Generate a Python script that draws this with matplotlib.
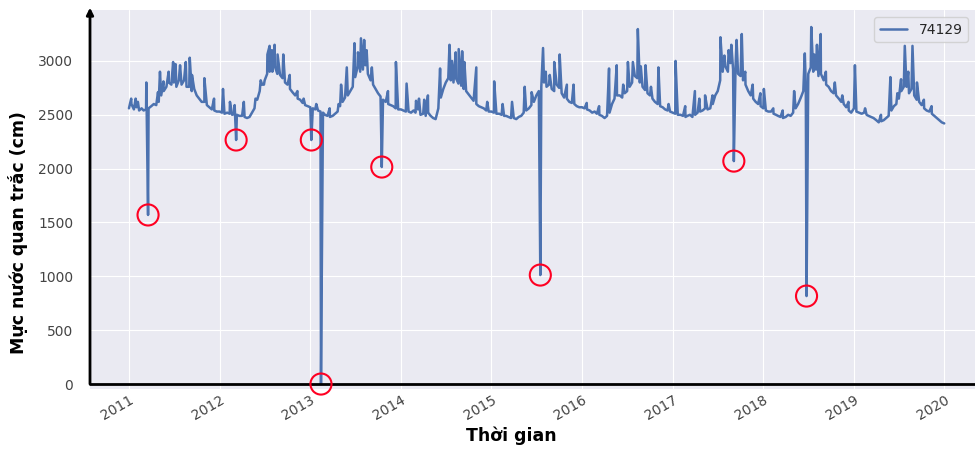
import matplotlib
matplotlib.use("Agg")
import matplotlib.pyplot as plt
import pandas as pd
import seaborn as sns

sns.set_style("darkgrid")
plt.rcParams["font.family"] = ["DejaVu Sans"]

STATION = "74129"

years = [2011, 2012, 2013, 2014, 2015, 2016, 2017, 2018, 2019]
level_2011 = [2560, 2600, 2550, 2570, 2540, 2560, 2540, 2550, 2560, 2580, 2600, 2590,
              2620, 2680, 2720, 2760, 2800, 2780, 2800, 2760, 2820, 2780, 2820, 2760,
              2760, 2720, 2740, 2680, 2650, 2620, 2620, 2590, 2570, 2550, 2540, 2530]
level_2012 = [2530, 2520, 2510, 2520, 2510, 2500, 2510, 2500, 2490, 2490, 2480, 2470,
              2480, 2520, 2560, 2640, 2720, 2780, 2820, 2880, 2900, 2900, 2950, 2880,
              2870, 2840, 2800, 2780, 2740, 2710, 2680, 2650, 2640, 2610, 2590, 2580]
level_2013 = [2570, 2560, 2550, 2540, 2530, 2520, 2500, 2490, 2480, 2490, 2510, 2530,
              2580, 2620, 2660, 2680, 2720, 2760, 2850, 2950, 2900, 2920, 2960, 2880,
              2820, 2780, 2740, 2700, 2670, 2640, 2620, 2600, 2590, 2580, 2560, 2550]
level_2014 = [2550, 2540, 2530, 2530, 2520, 2540, 2520, 2550, 2500, 2510, 2490, 2520,
              2490, 2470, 2460, 2560, 2660, 2740, 2800, 2840, 2820, 2800, 2840, 2790,
              2770, 2740, 2720, 2690, 2660, 2630, 2600, 2580, 2570, 2560, 2540, 2530]
level_2015 = [2530, 2520, 2510, 2510, 2500, 2490, 2490, 2480, 2470, 2470, 2460, 2480,
              2490, 2520, 2540, 2560, 2590, 2620, 2680, 2720, 2760, 2800, 2760, 2780,
              2740, 2720, 2780, 2750, 2700, 2660, 2650, 2620, 2610, 2600, 2580, 2570]
level_2016 = [2570, 2560, 2550, 2540, 2520, 2530, 2510, 2500, 2490, 2470, 2490, 2520,
              2600, 2650, 2680, 2680, 2660, 2700, 2720, 2760, 2800, 2860, 2840, 2800,
              2760, 2730, 2700, 2680, 2650, 2620, 2600, 2580, 2570, 2550, 2540, 2530]
level_2017 = [2520, 2510, 2500, 2500, 2490, 2480, 2490, 2500, 2480, 2500, 2520, 2530,
              2540, 2560, 2550, 2560, 2600, 2680, 2720, 2820, 2900, 2950, 2900, 2980,
              2920, 2960, 2880, 2860, 2820, 2780, 2720, 2680, 2650, 2620, 2600, 2580]
level_2018 = [2560, 2540, 2530, 2530, 2510, 2500, 2490, 2480, 2470, 2480, 2500, 2490,
              2520, 2560, 2600, 2660, 2720, 2780, 2880, 2940, 2900, 2920, 2860, 2880,
              2820, 2780, 2760, 2720, 2700, 2680, 2650, 2620, 2600, 2570, 2540, 2520]
level_2019 = [2560, 2530, 2520, 2510, 2520, 2500, 2490, 2480, 2470, 2450, 2430, 2440,
              2450, 2470, 2490, 2540, 2580, 2600, 2650, 2720, 2760, 2760, 2700, 2740,
              2680, 2640, 2620, 2590, 2560, 2540, 2530, 2510, 2490, 2470, 2450, 2430]
last_date, last_value = "2019-12-31", 2420

# single-day peaks
spike_dates = [
    "2011-01-10", "2011-01-28", "2011-02-06", "2011-03-12", "2011-04-28", "2011-05-06",
    "2011-05-20", "2011-06-10", "2011-06-28", "2011-07-08", "2011-07-26", "2011-08-18",
    "2011-09-03", "2011-09-12", "2011-11-01", "2011-12-10",
    "2012-01-15", "2012-02-12", "2012-03-02", "2012-04-08", "2012-05-25", "2012-06-15",
    "2012-06-28", "2012-07-12", "2012-07-21", "2012-07-30", "2012-08-10", "2012-08-22",
    "2012-09-14", "2012-10-10", "2012-11-10", "2012-12-05",
    "2013-01-25", "2013-03-20", "2013-04-25", "2013-05-05", "2013-05-28", "2013-06-28",
    "2013-07-12", "2013-07-24", "2013-08-06", "2013-08-16", "2013-09-06", "2013-11-10",
    "2013-12-12",
    "2014-01-24", "2014-03-03", "2014-03-15", "2014-04-05", "2014-04-20", "2014-06-08",
    "2014-07-16", "2014-07-26", "2014-08-10", "2014-08-22", "2014-09-05", "2014-09-14",
    "2014-11-01", "2014-12-15",
    "2015-01-12", "2015-02-15", "2015-03-25", "2015-05-15", "2015-06-12", "2015-07-28",
    "2015-08-08", "2015-08-24", "2015-09-11", "2015-10-03", "2015-11-01", "2015-11-28",
    "2016-01-20", "2016-03-10", "2016-04-19", "2016-05-20", "2016-06-15", "2016-07-04",
    "2016-07-24", "2016-08-13", "2016-08-25", "2016-09-13", "2016-10-05", "2016-11-04",
    "2016-12-15",
    "2017-01-12", "2017-02-20", "2017-03-31", "2017-04-18", "2017-05-11", "2017-06-10",
    "2017-07-12", "2017-07-28", "2017-08-14", "2017-08-25", "2017-09-15", "2017-10-06",
    "2017-10-20", "2017-11-19", "2017-12-20",
    "2018-01-03", "2018-02-10", "2018-03-20", "2018-05-05", "2018-06-17", "2018-07-13",
    "2018-07-25", "2018-08-05", "2018-08-20", "2018-09-10", "2018-10-16", "2018-11-15",
    "2018-12-10",
    "2019-01-05", "2019-02-15", "2019-04-20", "2019-05-28", "2019-06-25", "2019-07-10",
    "2019-07-25", "2019-08-08", "2019-08-25", "2019-09-12", "2019-10-10", "2019-11-10",
]
spike_values = [
    2650, 2650, 2620, 2800, 2710, 2900, 2810, 2900, 2990, 2970, 2960, 2990, 3030, 2870, 2840, 2650,
    2740, 2620, 2590, 2620, 2650, 2820, 2780, 3060, 3140, 3100, 3150, 3060, 3060, 2870, 2720, 2650,
    2600, 2560, 2600, 2780, 2940, 3165, 3080, 3210, 3195, 3100, 2940, 2720, 2990,
    2790, 2630, 2650, 2640, 2680, 2930, 3150, 3000, 3080, 3110, 3090, 2990, 2940, 2620,
    2810, 2600, 2620, 2760, 2710, 3120, 2900, 2870, 2990, 3060, 2780, 2780,
    2610, 2580, 2930, 2960, 2780, 2990, 2990, 3296, 2950, 2960, 2760, 2940, 2600,
    3000, 2580, 2720, 2650, 2680, 2680, 3220, 3050, 3100, 3150, 3195, 3250, 2900, 2780, 2700,
    2740, 2560, 2540, 2720, 3070, 3315, 3060, 3150, 3250, 2900, 2800, 2680, 2620,
    2960, 2560, 2500, 2850, 2700, 2830, 3140, 2900, 3140, 2800, 2640, 2580,
]

# abnormal drops (circled)
outlier_dates = ["2011-03-19", "2012-03-08", "2013-01-05", "2013-02-13",
                 "2013-10-16", "2015-07-17", "2017-09-04", "2018-06-24"]
outlier_values = [1570, 2266, 2266, 0, 2015, 1012, 2070, 817]

# ---- assemble the series ----
levels = [level_2011, level_2012, level_2013, level_2014, level_2015,
          level_2016, level_2017, level_2018, level_2019]
base_dates, base_values = [], []
for yr, vals in zip(years, levels):
    for i, v in enumerate(vals):
        base_dates.append(pd.Timestamp(yr, i // 3 + 1, [1, 11, 21][i % 3]))
        base_values.append(v)
base_dates.append(pd.Timestamp(last_date))
base_values.append(last_value)

series = pd.concat([
    pd.Series(base_values, index=pd.DatetimeIndex(base_dates)),
    pd.Series(spike_values, index=pd.to_datetime(spike_dates)),
    pd.Series(outlier_values, index=pd.to_datetime(outlier_dates)),
]).sort_index()

# ---- figure ----
fig = plt.figure(figsize=(9.75, 4.51), dpi=100)
ax = fig.add_axes([90 / 975, 1 - 389 / 451, 885 / 975, 379 / 451])

ax.plot(series.index, series.values, color="#4c72b0", lw=1.8, label=STATION)
ax.scatter(pd.to_datetime(outlier_dates), outlier_values, s=230, facecolors="none",
           edgecolors="#ff0022", linewidths=1.5, zorder=4, clip_on=False)

ax.set_xlim(pd.Timestamp("2010-07-28"), pd.Timestamp("2020-05-03"))
ax.set_ylim(-46, 3473)
ax.set_yticks([0, 500, 1000, 1500, 2000, 2500, 3000])
ax.xaxis.set_major_locator(matplotlib.dates.YearLocator())
ax.xaxis.set_major_formatter(matplotlib.dates.DateFormatter("%Y"))

for sp in ax.spines.values():
    sp.set_visible(False)

# black axes lines with arrow on y
ax.annotate("", xy=(0, 3495), xytext=(0, 0), xycoords=ax.get_yaxis_transform(),
            textcoords=ax.get_yaxis_transform(), annotation_clip=False,
            arrowprops=dict(arrowstyle="-|>", color="black", lw=2, mutation_scale=10,
                            shrinkA=0, shrinkB=0))
ax.plot([0, 1], [0, 0], transform=ax.get_yaxis_transform(), color="black", lw=2,
        clip_on=False, zorder=3)

ax.tick_params(axis="both", labelsize=10, labelcolor="#444444", length=0)
ax.tick_params(axis="y", pad=12)
ax.tick_params(axis="x", pad=3)
plt.setp(ax.get_xticklabels(), rotation=30, ha="right", rotation_mode="anchor")

ax.set_xlabel("Thời gian", fontsize=12.5, fontweight="bold", color="black")
ax.set_ylabel("Mực nước quan trắc (cm)", fontsize=12.5, fontweight="bold", color="black")
ax.xaxis.set_label_coords((511 - 90) / 885, -0.10)
ax.yaxis.set_label_coords((28 - 90) / 885, 0.414)

ax.legend(loc="upper right", fontsize=10)

fig.savefig("out.png", dpi=100)
